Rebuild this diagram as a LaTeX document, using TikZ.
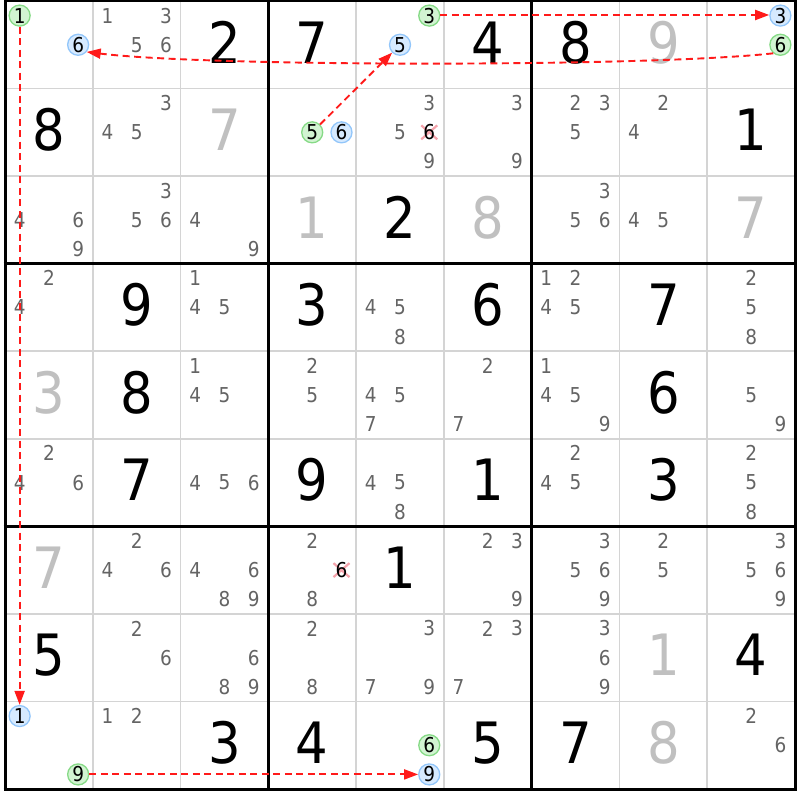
\documentclass[tikz,border=0pt]{standalone}
\usepackage{fontspec}
\setmainfont{DejaVu Sans Condensed}
\usetikzlibrary{arrows.meta}
\definecolor{candgray}{HTML}{646464}
\definecolor{solgray}{HTML}{C0C0C0}
\definecolor{gridgray}{HTML}{D4D4D4}
\definecolor{bluefill}{HTML}{D6EAFF}
\definecolor{bluebd}{HTML}{92C6FA}
\definecolor{greenfill}{HTML}{D2F4D2}
\definecolor{greenbd}{HTML}{86DA86}
\definecolor{arrred}{HTML}{FF1A1A}
\definecolor{xpink}{HTML}{F5A3AB}
\tikzset{
  candst/.style={inner sep=0pt, text=candgray, font=\fontsize{20.5}{20}\selectfont},
  givst/.style={inner sep=0pt, text=black, font=\fontsize{57}{57}\selectfont},
  solst/.style={givst, text=solgray},
  bc/.style={circle, draw=bluebd, fill=bluefill, line width=1.3pt, minimum size=21pt, inner sep=0pt, text=black, font=\fontsize{20.5}{20}\selectfont},
  gc/.style={bc, draw=greenbd, fill=greenfill},
  xst/.style={inner sep=0pt, text=black, font=\fontsize{20.5}{20}\selectfont},
  thingrid/.style={draw=gridgray, line width=1.5pt},
  thickgrid/.style={draw=black, line width=3pt},
  arr/.style={color=arrred, draw=arrred, line width=1.9pt, dash pattern=on 7pt off 4.5pt, -{Triangle[length=14pt,width=10pt,fill=arrred]}},
}
% helpers
\newcommand\cellpos[3]{% r c n -> \X \Y
  \pgfmathsetmacro\X{5+(#2-1)*87.778+(mod(#3-1,3)+0.5)*29.259}%
  \pgfmathsetmacro\Y{1+(#1-1)*87.556+(floor((#3-1)/3)+0.5)*29.185}}
\newcommand\cand[3]{\cellpos{#1}{#2}{#3}\node[candst] (k-#1-#2-#3) at (\X,\Y) {#3};}
\newcommand\cands[3]{\foreach \n in {#3}{\cand{#1}{#2}{\n}}}
\newcommand\ccand[4]{\cellpos{#2}{#3}{#4}\node[#1] (o-#2-#3-#4) at (\X,\Y) {#4};}
\newcommand\xcand[3]{\cellpos{#1}{#2}{#3}%
  \draw[xpink, line width=2.2pt] (\X-8,\Y-7) -- (\X+8,\Y+7) (\X-8,\Y+7) -- (\X+8,\Y-7);
  \node[xst] (x-#1-#2-#3) at (\X,\Y) {#3};}
\newcommand\bigd[4]{%
  \pgfmathsetmacro\X{5+(#3-0.5)*87.778}%
  \pgfmathsetmacro\Y{1+(#2-0.5)*87.556-2.5}%
  \node[#1] (g-#2-#3) at (\X,\Y) {#4};}
\newcommand\given[3]{\bigd{givst}{#1}{#2}{#3}}
\newcommand\solved[3]{\bigd{solst}{#1}{#2}{#3}}
\begin{document}
\begin{tikzpicture}[x=1pt,y=-1pt]
\useasboundingbox (0,0) rectangle (800,800);
\fill[white] (0,0) rectangle (800,800);
% grid
\foreach \i in {1,2,4,5,7,8}{
  \draw[thingrid] ({5+\i*87.778},1) -- ({5+\i*87.778},789);
  \draw[thingrid] (5,{1+\i*87.556}) -- (795,{1+\i*87.556});
}
\foreach \i in {0,3,6,9}{
  \draw[thickgrid] ({5+\i*87.778},-0.5) -- ({5+\i*87.778},790.5);
  \draw[thickgrid] (3.5,{1+\i*87.556}) -- (796.5,{1+\i*87.556});
}
% row 1
\ccand{gc}{1}{1}{1}\ccand{bc}{1}{1}{6}
\cands{1}{2}{1,3,5,6}
\given{1}{3}{2}
\given{1}{4}{7}
\ccand{gc}{1}{5}{3}\ccand{bc}{1}{5}{5}
\given{1}{6}{4}
\given{1}{7}{8}
\solved{1}{8}{9}
\ccand{bc}{1}{9}{3}\ccand{gc}{1}{9}{6}
% row 2
\given{2}{1}{8}
\cands{2}{2}{3,4,5}
\solved{2}{3}{7}
\ccand{gc}{2}{4}{5}\ccand{bc}{2}{4}{6}
\cands{2}{5}{3,5,9}\xcand{2}{5}{6}
\cands{2}{6}{3,9}
\cands{2}{7}{2,3,5}
\cands{2}{8}{2,4}
\given{2}{9}{1}
% row 3
\cands{3}{1}{4,6,9}
\cands{3}{2}{3,5,6}
\cands{3}{3}{4,9}
\solved{3}{4}{1}
\given{3}{5}{2}
\solved{3}{6}{8}
\cands{3}{7}{3,5,6}
\cands{3}{8}{4,5}
\solved{3}{9}{7}
% row 4
\cands{4}{1}{2,4}
\given{4}{2}{9}
\cands{4}{3}{1,4,5}
\given{4}{4}{3}
\cands{4}{5}{4,5,8}
\given{4}{6}{6}
\cands{4}{7}{1,2,4,5}
\given{4}{8}{7}
\cands{4}{9}{2,5,8}
% row 5
\solved{5}{1}{3}
\given{5}{2}{8}
\cands{5}{3}{1,4,5}
\cands{5}{4}{2,5}
\cands{5}{5}{4,5,7}
\cands{5}{6}{2,7}
\cands{5}{7}{1,4,5,9}
\given{5}{8}{6}
\cands{5}{9}{5,9}
% row 6
\cands{6}{1}{2,4,6}
\given{6}{2}{7}
\cands{6}{3}{4,5,6}
\given{6}{4}{9}
\cands{6}{5}{4,5,8}
\given{6}{6}{1}
\cands{6}{7}{2,4,5}
\given{6}{8}{3}
\cands{6}{9}{2,5,8}
% row 7
\solved{7}{1}{7}
\cands{7}{2}{2,4,6}
\cands{7}{3}{4,6,8,9}
\cands{7}{4}{2,8}\xcand{7}{4}{6}
\given{7}{5}{1}
\cands{7}{6}{2,3,9}
\cands{7}{7}{3,5,6,9}
\cands{7}{8}{2,5}
\cands{7}{9}{3,5,6,9}
% row 8
\given{8}{1}{5}
\cands{8}{2}{2,6}
\cands{8}{3}{6,8,9}
\cands{8}{4}{2,8}
\cands{8}{5}{3,7,9}
\cands{8}{6}{2,3,7}
\cands{8}{7}{3,6,9}
\solved{8}{8}{1}
\given{8}{9}{4}
% row 9
\ccand{bc}{9}{1}{1}\ccand{gc}{9}{1}{9}
\cands{9}{2}{1,2}
\given{9}{3}{3}
\given{9}{4}{4}
\ccand{gc}{9}{5}{6}\ccand{bc}{9}{5}{9}
\given{9}{6}{5}
\given{9}{7}{7}
\solved{9}{8}{8}
\cands{9}{9}{2,6}
% arrows
\draw[arr] (o-1-1-1) -- (o-9-1-1);
\draw[arr] (o-9-1-9) -- (o-9-5-9);
\draw[arr] ([yshift=0.6pt]o-1-5-3.east) -- ([yshift=0.6pt]o-1-9-3.west);
\draw[arr] (o-2-4-5) -- (o-1-5-5);
\draw[arr] (o-1-9-6.230) .. controls (650,67) and (210,67) .. (o-1-1-6.320);
\end{tikzpicture}
\end{document}
